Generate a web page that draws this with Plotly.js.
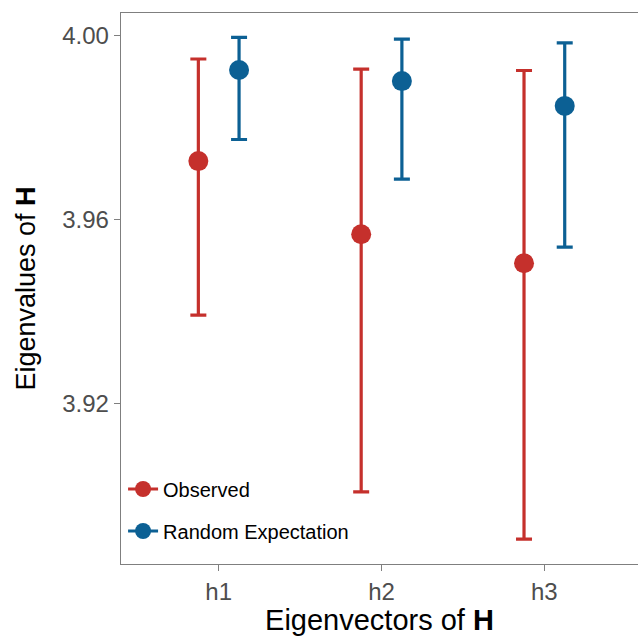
<!DOCTYPE html>
<html>
<head>
<meta charset="utf-8">
<script src="https://cdn.plot.ly/plotly-3.0.1.min.js"></script>
<style>html,body{margin:0;padding:0;background:#fff;}#chart{width:638px;height:636px;}</style>
</head>
<body>
<div id="chart"></div>
<script>
// Data
var categories = ['h1', 'h2', 'h3'];
var observedMean = [3.9727, 3.9568, 3.9505];
var observedLow  = [3.9392, 3.9008, 3.8905];
var observedHigh = [3.9949, 3.9927, 3.9924];
var randomMean = [3.9925, 3.9901, 3.9847];
var randomLow  = [3.9774, 3.9688, 3.9540];
var randomHigh = [3.9996, 3.9992, 3.9984];
var yTickVals = [3.92, 3.96, 4.00];
var yTickText = ['3.92', '3.96', '4.00'];

var RED = '#c5302c';
var BLUE = '#0c6094';
var FONT = 'Liberation Sans, Arial, sans-serif';
var dodge = 0.125;

function pos(offset) { return categories.map(function (c, i) { return i + 1 + offset; }); }
function diff(a, b) { return a.map(function (v, i) { return v - b[i]; }); }

function seriesTrace(name, mean, low, high, color, offset) {
  return {
    type: 'scatter', mode: 'markers', name: name, showlegend: false,
    x: pos(offset), y: mean,
    marker: { color: color, size: 20 },
    error_y: { type: 'data', symmetric: false,
      array: diff(high, mean), arrayminus: diff(mean, low),
      color: color, thickness: 3.2, width: 8 },
    hoverinfo: 'skip'
  };
}
function legendTrace(name, color, group) {
  return {
    type: 'scatter', mode: 'lines+markers', name: name, legendgroup: group,
    x: [null], y: [null],
    marker: { color: color, size: 20 }, line: { color: color, width: 3.2 }
  };
}

var data = [
  seriesTrace('Observed', observedMean, observedLow, observedHigh, RED, -dodge),
  seriesTrace('Random Expectation', randomMean, randomLow, randomHigh, BLUE, dodge),
  legendTrace('Observed', RED, 'a'),
  legendTrace('Random Expectation', BLUE, 'b')
];

var layout = {
  width: 638, height: 636,
  margin: { l: 121, r: 0, t: 13, b: 72 },
  paper_bgcolor: '#ffffff', plot_bgcolor: '#ffffff',
  font: { family: FONT, color: '#000' },
  xaxis: {
    range: [0.4, 3.575], tickmode: 'array', tickvals: [1, 2, 3], ticktext: categories,
    showgrid: false, zeroline: false,
    showline: true, mirror: true, linecolor: '#7f7f7f', linewidth: 1.3,
    ticks: 'outside', ticklen: 6, tickcolor: '#7f7f7f', tickwidth: 1.3,
    tickfont: { size: 24, color: '#4d4d4d', family: FONT },
    title: { text: 'Eigenvectors of <b>H</b>', font: { size: 29, color: '#000', family: FONT }, standoff: 6 }
  },
  yaxis: {
    range: [3.8851, 4.0049], tickmode: 'array', tickvals: yTickVals, ticktext: yTickText,
    showgrid: false, zeroline: false,
    showline: true, linecolor: '#7f7f7f', linewidth: 1.3,
    ticks: 'outside', ticklen: 6, tickcolor: '#7f7f7f', tickwidth: 1.3,
    tickfont: { size: 24, color: '#4d4d4d', family: FONT },
    title: { text: 'Eigenvalues of <b>H</b>', font: { size: 27, color: '#000', family: FONT }, standoff: 18 }
  },
  showlegend: true,
  legend: {
    x: 0.004, xanchor: 'left', y: 0.098, yanchor: 'middle',
    bgcolor: 'rgba(0,0,0,0)', borderwidth: 0,
    font: { size: 20, color: '#000', family: FONT },
    tracegroupgap: 13, orientation: 'v'
  }
};

Plotly.newPlot('chart', data, layout, { staticPlot: true, displayModeBar: false });
</script>
</body>
</html>
